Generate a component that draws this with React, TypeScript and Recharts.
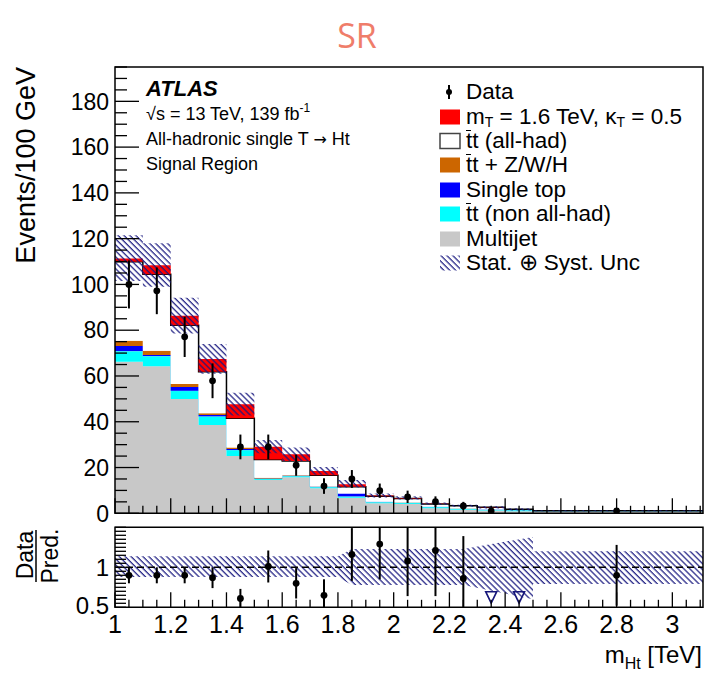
import React from 'react';
import {
  ComposedChart,
  Area,
  Scatter,
  ErrorBar,
  XAxis,
  YAxis,
  ReferenceArea,
  ReferenceLine,
  Legend,
} from 'recharts';

const FONT = '"Liberation Sans", Arial, Helvetica, sans-serif';

// bin edges in TeV (last bin is a wide overflow bin)
const BIN_EDGES = [1.0, 1.1, 1.2, 1.3, 1.4, 1.5, 1.6, 1.7, 1.8, 1.9, 2.0, 2.1, 2.2, 2.3, 2.4, 2.5, 3.11];
const BIN_CENTERS = [1.05, 1.15, 1.25, 1.35, 1.45, 1.55, 1.65, 1.75, 1.85, 1.95, 2.05, 2.15, 2.25, 2.35, 2.45, 2.8];

// stacked components, events / 100 GeV
const MULTIJET = [66.2, 64.3, 49.9, 38.6, 25.0, 14.6, 15.7, 10.9, 6.8, 4.4, 4.1, 2.2, 1.5, 1.2, 0.9, 0.7];
const TT_NONHAD = [4.7, 4.4, 3.7, 3.8, 2.7, 0.5, 0.6, 0.6, 0.6, 0.5, 0.5, 0.6, 0.5, 0.4, 0.5, 0.2];
const SINGLE_TOP = [2.2, 0.5, 1.6, 0.6, 0.4, 0.1, 0.1, 0.1, 1.2, 0.1, 0.05, 0.05, 0.03, 0.03, 0.02, 0.01];
const TT_V = [2.3, 1.8, 1.3, 0.7, 0.6, 0.3, 0.2, 0.1, 0.1, 0.05, 0.05, 0.05, 0.03, 0.02, 0.02, 0.01];
const TT_HAD = [34.5, 33.4, 25.7, 18.1, 12.8, 8.0, 6.2, 4.9, 2.9, 2.4, 1.8, 1.2, 1.2, 1.0, 0.3, 0.2];
const SIGNAL = [1.4, 4.0, 4.1, 5.6, 6.2, 5.6, 3.0, 1.9, 1.1, 0.3, 0.2, 0.1, 0.05, 0.05, 0, 0];

// stat+syst band
const UNC_LO = [101.5, 99.0, 78.6, 61.0, 42.7, 26.2, 22.8, 16.8, 11.3, 6.9, 6.0, 3.7, 2.9, 2.1, 1.2, 0.85];
const UNC_HI = [121.5, 118.0, 94.2, 74.0, 52.7, 32.0, 28.8, 20.2, 14.6, 8.6, 7.4, 4.7, 3.7, 3.1, 2.2, 1.35];

const DATA = [100, 97.2, 77.1, 57.9, 29.0, 29.0, 21.0, 11.9, 15.0, 9.9, 7.2, 5.1, 3.2, 1.0, null, 1.0];
const DATA_ERR = [10.5, 10.2, 8.8, 7.6, 5.4, 5.4, 4.6, 3.4, 3.9, 3.1, 2.7, 2.3, 1.8, 1.0, null, 1.0];

// ratio panel
const RATIO_X = [1.05, 1.15, 1.25, 1.35, 1.45, 1.55, 1.65, 1.75, 1.85, 1.95, 2.05, 2.15, 2.25, 2.8];
const RATIO = [0.9, 0.9, 0.9, 0.87, 0.61, 1.01, 0.8, 0.65, 1.16, 1.29, 1.08, 1.21, 0.86, 0.9];
const RATIO_ERR = [0.1, 0.1, 0.1, 0.13, 0.12, 0.2, 0.19, 0.2, 0.33, 0.44, 0.44, 0.57, 0.53, 0.38];
const OFFSCALE_X = [2.35, 2.45];
const OFFSCALE_Y = [0.62, 0.62];

const BAND_X = [1.0, 1.8, 1.85, 2.25, 2.5, 2.5, 3.11];
const BAND_LO = [0.878, 0.878, 0.78, 0.78, 0.6, 0.79, 0.79];
const BAND_HI = [1.138, 1.138, 1.23, 1.23, 1.38, 1.2, 1.2];

const X_MAX = 3.11;
const Y_MAX = 195;
const R_MIN = 0.5;
const R_MAX = 1.5;

const histRows = BIN_EDGES.map((x, i) => {
  const j = Math.min(i, MULTIJET.length - 1);
  return {
    x,
    mj: MULTIJET[j],
    ttNon: TT_NONHAD[j],
    st: SINGLE_TOP[j],
    ttv: TT_V[j],
    ttHad: TT_HAD[j],
    sig: SIGNAL[j],
    unc: [UNC_LO[j], UNC_HI[j]],
  };
});

const dataPoints = BIN_CENTERS.map((x, i) => ({ x, y: DATA[i], err: DATA_ERR[i] })).filter(
  (p) => p.y !== null
);
// error bars are cut at the panel frame
const ratioPoints = RATIO_X.map((x, i) => ({
  x,
  y: RATIO[i],
  err: [Math.min(RATIO_ERR[i], RATIO[i] - R_MIN), Math.min(RATIO_ERR[i], R_MAX - RATIO[i])],
}));
const offscalePoints = OFFSCALE_X.map((x, i) => ({ x, y: OFFSCALE_Y[i] }));
const bandRows = BAND_X.map((x, i) => ({ x, band: [BAND_LO[i], BAND_HI[i]] }));

const X_TICKS = Array.from({ length: 43 }, (_, i) => Math.round((1 + i * 0.05) * 100) / 100);
const Y_TICKS = Array.from({ length: 40 }, (_, i) => i * 5);
const R_TICKS = Array.from({ length: 21 }, (_, i) => Math.round((0.5 + i * 0.05) * 100) / 100);

const isMult = (v: number, step: number) => Math.abs(v / step - Math.round(v / step)) < 1e-6;

const XTick = ({ x, y, payload, labels }: any) => {
  const v = payload.value;
  const major = isMult(v, 0.2);
  const len = major ? 15 : 7.5;
  return (
    <g>
      <line x1={x} x2={x} y1={y} y2={y - len} stroke="#000" strokeWidth={1.3} />
      {labels && major && (
        <text x={x} y={y + 26} textAnchor="middle" fontSize={25} fontFamily={FONT} fill="#000">
          {String(v)}
        </text>
      )}
    </g>
  );
};

const YTickMain = ({ x, y, payload }: any) => {
  const v = payload.value;
  const major = v % 20 === 0;
  return (
    <g>
      <line x1={x} x2={x + (major ? 24 : 12)} y1={y} y2={y} stroke="#000" strokeWidth={1.3} />
      {major && v <= 180 && (
        <text x={x - 6} y={y} dy="0.36em" textAnchor="end" fontSize={23} fontFamily={FONT} fill="#000">
          {v}
        </text>
      )}
    </g>
  );
};

const YTickRatio = ({ x, y, payload }: any) => {
  const v = payload.value;
  const label = v === 1 ? '1' : v === 0.5 ? '0.5' : null;
  return (
    <g>
      <line x1={x} x2={x + 11} y1={y} y2={y} stroke="#000" strokeWidth={1.3} />
      {label && (
        <text x={x - 6} y={v === 0.5 ? y - 2 : y} dy="0.36em" textAnchor="end" fontSize={24} fontFamily={FONT} fill="#000">
          {label}
        </text>
      )}
    </g>
  );
};

const hatch = (id: string) => (
  <pattern id={id} patternUnits="userSpaceOnUse" width={4.2} height={4.2} patternTransform="rotate(-45)">
    <line x1={1} y1={0} x2={1} y2={4.2} stroke="#18187f" strokeWidth={1.2} />
  </pattern>
);

const LEGEND_ITEMS = [
  { key: 'data', label: 'Data' },
  { key: 'sig', label: 'sig', color: '#ff0000' },
  { key: 'ttHad', label: 'tthad', color: '#ffffff' },
  { key: 'ttv', label: 'ttv', color: '#cc6600' },
  { key: 'st', label: 'Single top', color: '#0000ff' },
  { key: 'ttNon', label: 'ttnon', color: '#00ffff' },
  { key: 'mj', label: 'Multijet', color: '#c8c8c8' },
  { key: 'unc', label: 'unc' },
];

// t-tbar with a short bar over the first t
const TT = () => (
  <span>
    <span style={{ position: 'relative', display: 'inline-block' }}>
      t
      <span
        style={{ position: 'absolute', left: 0, right: 1, top: 1, height: 0, borderTop: '1.5px solid #000' }}
      />
    </span>
    t
  </span>
);

const SUB = { fontSize: 14, lineHeight: 0, verticalAlign: '-3px' };

const legendText = (key: string, label: string) => {
  switch (key) {
    case 'sig':
      return (
        <span>
          m<span style={SUB}>T</span> = 1.6 TeV, κ<span style={SUB}>T</span> = 0.5
        </span>
      );
    case 'ttHad':
      return (
        <span>
          <TT /> (all-had)
        </span>
      );
    case 'ttv':
      return (
        <span>
          <TT /> + Z/W/H
        </span>
      );
    case 'ttNon':
      return (
        <span>
          <TT /> (non all-had)
        </span>
      );
    case 'unc':
      return <span>Stat. ⊕ Syst. Unc</span>;
    default:
      return <span>{label}</span>;
  }
};

const LegendBox = () => (
  <div style={{ fontFamily: FONT, fontSize: 22.5, color: '#000' }}>
    {LEGEND_ITEMS.map((it) => (
      <div key={it.key} style={{ display: 'flex', alignItems: 'center', height: 24.4, lineHeight: '24px' }}>
        <svg width={24} height={20} style={{ marginRight: 5, flex: 'none' }}>
          {it.key === 'data' && (
            <g>
              <line x1={12} x2={12} y1={3} y2={17} stroke="#000" strokeWidth={2} />
              <circle cx={12} cy={10} r={3} fill="#000" />
            </g>
          )}
          {it.color && (
            <rect
              x={3}
              y={2.5}
              width={20}
              height={15}
              fill={it.color}
              stroke={it.key === 'ttHad' ? '#444' : 'none'}
              strokeWidth={1.5}
            />
          )}
          {it.key === 'unc' && (
            <g>
              <defs>{hatch('hatchLegend')}</defs>
              <rect x={3} y={2.5} width={20} height={15} fill="url(#hatchLegend)" />
            </g>
          )}
        </svg>
        {legendText(it.key, it.label)}
      </div>
    ))}
  </div>
);

export default function App() {
  return (
    <div style={{ position: 'absolute', left: 0, top: 0, width: 712, height: 678, background: '#fff', fontFamily: FONT }}>
      <div style={{ position: 'absolute', left: 0, top: 0 }}>
        <ComposedChart width={712} height={530} data={histRows} margin={{ top: 67, right: 9, bottom: 6.7, left: 0 }}>
          <defs>{hatch('hatchMain')}</defs>
          <Area type="stepAfter" dataKey="mj" stackId="bkg" fill="#c8c8c8" fillOpacity={1} stroke="none" isAnimationActive={false} />
          <Area type="stepAfter" dataKey="ttNon" stackId="bkg" fill="#00ffff" fillOpacity={1} stroke="#6fd0f0" strokeWidth={1} isAnimationActive={false} />
          <Area type="stepAfter" dataKey="st" stackId="bkg" fill="#0000ff" fillOpacity={1} stroke="none" isAnimationActive={false} />
          <Area type="stepAfter" dataKey="ttv" stackId="bkg" fill="#cc6600" fillOpacity={1} stroke="none" isAnimationActive={false} />
          <Area type="stepAfter" dataKey="ttHad" stackId="bkg" fill="#ffffff" fillOpacity={1} stroke="#000" strokeWidth={1.5} isAnimationActive={false} />
          <Area type="stepAfter" dataKey="sig" stackId="bkg" fill="#ff0000" fillOpacity={1} stroke="none" isAnimationActive={false} />
          <Area type="stepAfter" dataKey="unc" fill="url(#hatchMain)" fillOpacity={1} stroke="none" isAnimationActive={false} />
          <Scatter
            data={dataPoints}
            dataKey="y"
            isAnimationActive={false}
            shape={(p: any) => <circle cx={p.cx} cy={p.cy} r={3.4} fill="#000" />}
          >
            <ErrorBar dataKey="err" direction="y" width={0} stroke="#000" strokeWidth={2} isAnimationActive={false} />
          </Scatter>
          <ReferenceArea x1={1} x2={X_MAX} y1={0} y2={Y_MAX} fill="none" stroke="#000" strokeWidth={1.5} ifOverflow="visible" />
          <XAxis
            dataKey="x"
            type="number"
            domain={[1, X_MAX]}
            allowDataOverflow
            ticks={X_TICKS}
            interval={0}
            height={10}
            axisLine={false}
            tickLine={false}
            tickSize={0}
            tickMargin={0}
            tick={(p: any) => <XTick {...p} labels={false} />}
          />
          <YAxis
            type="number"
            domain={[0, Y_MAX]}
            allowDataOverflow
            ticks={Y_TICKS}
            interval={0}
            width={115}
            axisLine={false}
            tickLine={false}
            tickSize={0}
            tickMargin={0}
            tick={(p: any) => <YTickMain {...p} />}
          />
          <Legend
            layout="vertical"
            align="center"
            verticalAlign="middle"
            content={() => <LegendBox />}
            wrapperStyle={{ top: 80, left: 437, width: 270 }}
          />
        </ComposedChart>
      </div>

      <div style={{ position: 'absolute', left: 0, top: 510 }}>
        <ComposedChart width={712} height={168} data={bandRows} margin={{ top: 17.3, right: 9, bottom: 30.7, left: 0 }}>
          <defs>{hatch('hatchRatio')}</defs>
          <Area type="linear" dataKey="band" fill="url(#hatchRatio)" fillOpacity={1} stroke="none" isAnimationActive={false} />
          <ReferenceLine y={1} stroke="#000" strokeWidth={1.5} strokeDasharray="7 4" />
          <Scatter
            data={ratioPoints}
            dataKey="y"
            isAnimationActive={false}
            shape={(p: any) => <circle cx={p.cx} cy={p.cy} r={3.4} fill="#000" />}
          >
            <ErrorBar dataKey="err" direction="y" width={0} stroke="#000" strokeWidth={2} isAnimationActive={false} />
          </Scatter>
          <Scatter
            data={offscalePoints}
            dataKey="y"
            isAnimationActive={false}
            shape={(p: any) => (
              <path
                d={`M${p.cx - 5.5},${p.cy - 6}L${p.cx + 5.5},${p.cy - 6}L${p.cx},${p.cy + 5.5}Z`}
                fill="none"
                stroke="#16167a"
                strokeWidth={1.6}
              />
            )}
          />
          <ReferenceArea x1={1} x2={X_MAX} y1={R_MIN} y2={R_MAX} fill="none" stroke="#000" strokeWidth={1.5} ifOverflow="visible" />
          <XAxis
            dataKey="x"
            type="number"
            domain={[1, X_MAX]}
            allowDataOverflow
            ticks={X_TICKS}
            interval={0}
            height={40}
            axisLine={false}
            tickLine={false}
            tickSize={0}
            tickMargin={0}
            tick={(p: any) => <XTick {...p} labels />}
          />
          <YAxis
            type="number"
            domain={[R_MIN, R_MAX]}
            allowDataOverflow
            ticks={R_TICKS}
            interval={0}
            width={115}
            axisLine={false}
            tickLine={false}
            tickSize={0}
            tickMargin={0}
            tick={(p: any) => <YTickRatio {...p} />}
          />
        </ComposedChart>
      </div>

      <svg width={712} height={678} style={{ position: 'absolute', left: 0, top: 0, pointerEvents: 'none' }}>
        <text x={357} y={48} textAnchor="middle" fontSize={34} fontFamily='"Open Sans", sans-serif' fill="#ef7d6a">
          SR
        </text>
        <text transform="translate(35,67) rotate(-90)" textAnchor="end" fontSize={27} fontFamily={FONT} fill="#000">
          Events/100 GeV
        </text>
        <text x={146} y={96} fontSize={22} fontWeight="bold" fontStyle="italic" fontFamily={FONT} fill="#000">
          ATLAS
        </text>
        <text x={146} y={120} fontSize={18} fontFamily={FONT} fill="#000">
          √s = 13 TeV, 139 fb
          <tspan fontSize={12} dy={-8}>-1</tspan>
        </text>
        <text x={146} y={145} fontSize={18} fontFamily={FONT} fill="#000">
          All-hadronic single T <tspan fontFamily='"DejaVu Sans", sans-serif' fontSize={16}>→</tspan> Ht
        </text>
        <text x={146} y={170} fontSize={18} fontFamily={FONT} fill="#000">
          Signal Region
        </text>
        <text transform="translate(33,555) rotate(-90)" textAnchor="middle" fontSize={23} fontFamily={FONT} fill="#000">
          Data
        </text>
        <line x1={36} x2={36} y1={530} y2={582} stroke="#000" strokeWidth={1.5} />
        <text transform="translate(58,556) rotate(-90)" textAnchor="middle" fontSize={23} fontFamily={FONT} fill="#000">
          Pred.
        </text>
        <text x={702} y={663} textAnchor="end" fontSize={24} fontFamily={FONT} fill="#000">
          m<tspan fontSize={16} dy={6}>Ht</tspan>
          <tspan dy={-6}> [TeV]</tspan>
        </text>
      </svg>
    </div>
  );
}
